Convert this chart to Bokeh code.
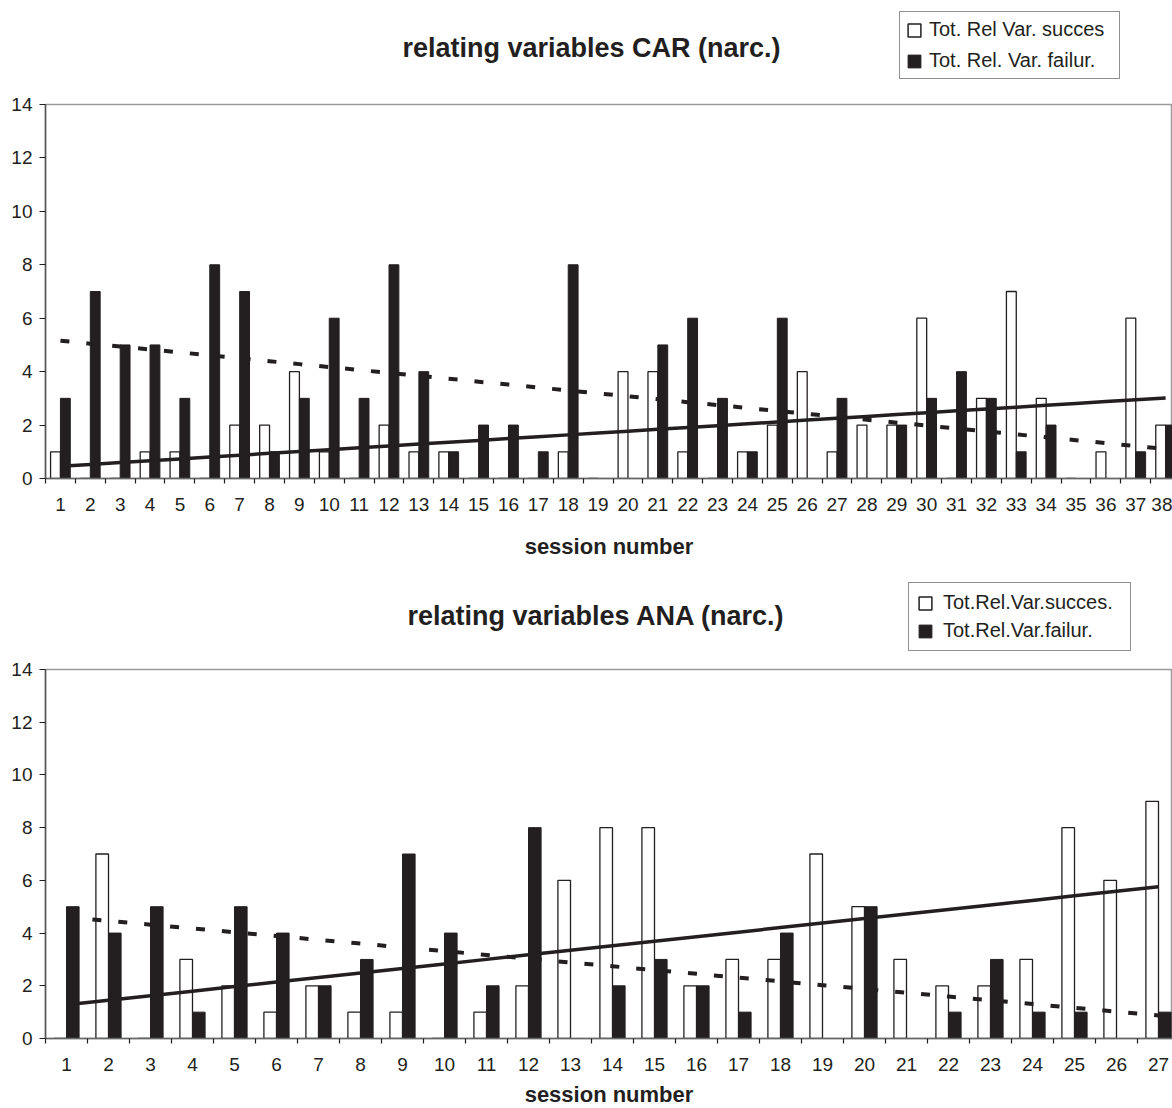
import numpy as np
from bokeh.plotting import figure
from bokeh.models import Range1d, FixedTicker, Legend, LegendItem, Label
from bokeh.layouts import column
from bokeh.embed import file_html
from bokeh.resources import INLINE

# ---------------- data ----------------
car_sessions = list(range(1, 39))
car_success = [1, 0, 0, 1, 1, 0, 2, 2, 4, 1, 0, 2, 1, 1, 0, 0, 0, 1, 0, 4,
               4, 1, 0, 1, 2, 4, 1, 2, 2, 6, 0, 3, 7, 3, 0, 1, 6, 2]
car_failure = [3, 7, 5, 5, 3, 8, 7, 1, 3, 6, 3, 8, 4, 1, 2, 2, 1, 8, 0, 0,
               5, 6, 3, 1, 6, 0, 3, 0, 2, 3, 4, 3, 1, 2, 0, 0, 1, 2]

ana_sessions = list(range(1, 28))
ana_success = [0, 7, 0, 3, 2, 1, 2, 1, 1, 0, 1, 2, 6, 8, 8, 2, 3, 3, 7, 5,
               3, 2, 2, 3, 8, 6, 9]
ana_failure = [5, 4, 5, 1, 5, 4, 2, 3, 7, 4, 2, 8, 0, 2, 3, 2, 1, 4, 0, 5,
               0, 1, 3, 1, 1, 0, 1]

y_ticks = [0, 2, 4, 6, 8, 10, 12, 14]

car_title = "relating variables CAR (narc.)"
ana_title = "relating variables ANA (narc.)"
car_legend = ["Tot. Rel Var. succes", "Tot. Rel. Var. failur."]
ana_legend = ["Tot.Rel.Var.succes.", "Tot.Rel.Var.failur."]
x_label = "session number"

FONT = "Liberation Sans"
INK = "#231f20"
W = 1172
LEFT = 45


def make_header(height, title, title_xy, legend_labels, legend_xy,
                legend_pad, legend_spacing, legend_standoff, legend_lw):
    h = figure(frame_width=W - LEFT, frame_height=height,
               x_range=Range1d(LEFT, W), y_range=Range1d(height, 0),
               x_axis_type=None, y_axis_type=None,
               output_backend="svg", toolbar_location=None,
               min_border_left=LEFT, min_border_right=0,
               min_border_top=0, min_border_bottom=0)
    h.outline_line_color = None
    h.background_fill_color = "white"
    h.border_fill_color = "white"
    # legend proxies: zero-size, hidden behind the legend box itself
    px = legend_xy[0] + 100
    py = height - legend_xy[1] - 30
    ds = h.vbar(x=[px], top=[py], bottom=[py], width=0, fill_color="white",
                line_color=INK, line_width=1.5)
    df = h.vbar(x=[px], top=[py], bottom=[py], width=0, fill_color=INK,
                line_color=INK, line_width=1)
    legend = Legend(items=[LegendItem(label=legend_labels[0], renderers=[ds]),
                           LegendItem(label=legend_labels[1], renderers=[df])],
                    location=(legend_xy[0] - LEFT, legend_xy[1]),
                    orientation="vertical",
                    glyph_width=16, glyph_height=16,
                    label_text_font=FONT, label_text_font_size="20px",
                    label_text_color=INK, label_standoff=legend_standoff,
                    label_width=legend_lw,
                    padding=legend_pad, spacing=legend_spacing, margin=0,
                    border_line_color=INK, border_line_width=1,
                    background_fill_color="white", background_fill_alpha=1)
    h.add_layout(legend, "center")
    h.add_layout(Label(x=title_xy[0], y=title_xy[1], text=title,
                       text_font=FONT, text_font_style="bold",
                       text_font_size="27px", text_align="center",
                       text_baseline="middle", text_color=INK))
    return h


def make_chart(sessions, succ, fail, cat_px, frame_h, border_bottom,
               label_standoff, bar_w):
    n = len(sessions)
    xs = np.array(sessions, dtype=float)
    frame_w = W - LEFT
    x_end = 0.5 + frame_w / cat_px
    p = figure(frame_width=frame_w, frame_height=frame_h,
               x_range=Range1d(0.5, x_end), y_range=Range1d(0, 14),
               output_backend="svg", toolbar_location=None,
               min_border_left=LEFT, min_border_right=0,
               min_border_top=14, min_border_bottom=border_bottom)
    p.background_fill_color = "white"
    p.border_fill_color = "white"
    p.outline_line_color = "#9a9a9a"
    p.outline_line_width = 1.5
    p.xgrid.visible = False
    p.ygrid.visible = False

    p.vbar(x=xs - bar_w / 2, top=succ, width=bar_w, bottom=0,
           fill_color="white", line_color=INK, line_width=1.3)
    p.vbar(x=xs + bar_w / 2, top=fail, width=bar_w, bottom=0,
           fill_color=INK, line_color=INK, line_width=1)

    cs = np.polyfit(xs, np.array(succ, dtype=float), 1)
    cf = np.polyfit(xs, np.array(fail, dtype=float), 1)
    p.line(xs, np.polyval(cs, xs), line_color=INK, line_width=3.5)
    p.line(xs, np.polyval(cf, xs), line_color=INK, line_width=4,
           line_dash="9 17")

    xa = p.xaxis[0]
    xa.ticker = FixedTicker(ticks=sessions,
                            minor_ticks=[s + 0.5 for s in range(0, n + 1)])
    xa.major_tick_line_color = None
    xa.major_tick_out = 5
    xa.major_tick_in = 0
    xa.minor_tick_out = 5
    xa.minor_tick_in = 0
    xa.minor_tick_line_color = INK
    xa.minor_tick_line_width = 1.2
    xa.axis_line_color = "#666666"
    xa.axis_line_width = 1.5
    xa.major_label_text_font = FONT
    xa.major_label_text_font_size = "19px"
    xa.major_label_text_color = INK
    xa.major_label_standoff = 14
    xa.axis_label = x_label
    xa.axis_label_text_font = FONT
    xa.axis_label_text_font_size = "22px"
    xa.axis_label_text_font_style = "bold"
    xa.axis_label_text_color = INK
    xa.axis_label_standoff = label_standoff

    ya = p.yaxis[0]
    ya.ticker = FixedTicker(ticks=y_ticks)
    ya.minor_tick_line_color = None
    ya.major_tick_out = 6
    ya.major_tick_in = 0
    ya.major_tick_line_color = INK
    ya.major_tick_line_width = 1.2
    ya.axis_line_color = "#555555"
    ya.axis_line_width = 1.5
    ya.major_label_text_font = FONT
    ya.major_label_text_font_size = "19px"
    ya.major_label_text_color = INK
    ya.major_label_standoff = 7
    return p


# header 1: page y 0-90; chart 1: 90-562 (frame 104-478)
h1 = make_header(90, car_title, (591, 47), car_legend, (899, 11),
                 legend_pad=6, legend_spacing=8, legend_standoff=7,
                 legend_lw=184)
p1 = make_chart(car_sessions, car_success, car_failure, cat_px=29.87,
                frame_h=374, border_bottom=84, label_standoff=20, bar_w=0.33)
# header 2: page y 562-655; chart 2: 655-1108 (frame 669-1038)
h2 = make_header(93, ana_title, (596, 53), ana_legend, (908, 4),
                 legend_pad=8, legend_spacing=5, legend_standoff=10,
                 legend_lw=179)
p2 = make_chart(ana_sessions, ana_success, ana_failure, cat_px=42.0,
                frame_h=369, border_bottom=70, label_standoff=8, bar_w=0.3)

layout = column(h1, p1, h2, p2, spacing=0)
open("out.html", "w").write(file_html(layout, INLINE))
